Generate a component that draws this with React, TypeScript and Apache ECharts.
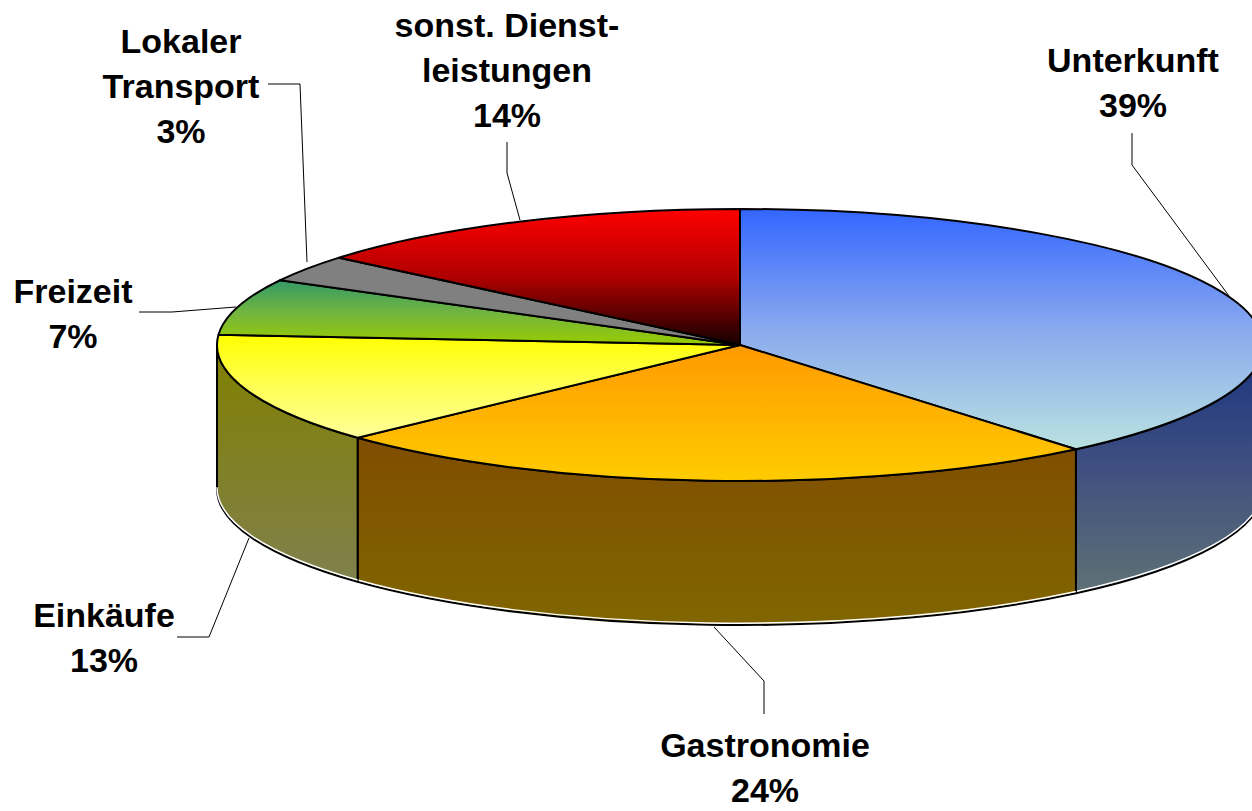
import React, { useEffect, useRef } from "react";
import * as echarts from "echarts";

const categories = ["Unterkunft", "Gastronomie", "Einkäufe", "Freizeit", "Lokaler\nTransport", "sonst. Dienst-\nleistungen"];
const shares = [38.9, 24.15, 13.15, 6.7, 3.2, 13.9];
const topColors = [
  ["#3366ff", "#8aa9ee", "#b9e2e0"],
  ["#ff9900", "#ffb300", "#ffcc00"],
  ["#ffff00", "#ffff55", "#ffff99"],
  ["#339966", "#72b540", "#99cc00"],
  ["#808080", "#808080", "#808080"],
  ["#ff0000", "#b00000", "#150000"],
];
const wallColors = [
  ["#1a3380", "#3f5080", "#5f7175"],
  ["#804d00", "#805a00", "#806600"],
  ["#808000", "#808026", "#80804d"],
  ["#1a4d33", "#38591a", "#4d6600"],
  ["#404040", "#404040", "#404040"],
  ["#800000", "#580000", "#0d0000"],
];
const labelAnchors = [
  [1133, 37],
  [765, 722],
  [104, 592],
  [73, 268],
  [181, 18],
  [507, 2],
];
const leaders = [
  [[1132, 133], [1132, 165], [1232, 300]],
  [[764, 714], [764, 681], [714, 627]],
  [[177, 637], [209, 637], [249, 538]],
  [[139, 312], [172, 312], [236, 307]],
  [[268, 84], [300, 84], [307, 262]],
  [[507, 142], [507, 173], [520, 220]],
];

const CX = 740;
const CY = 345;
const RX = 523;
const RY = 136;
const DEPTH = 144;
const total = shares.reduce((a, b) => a + b, 0);

const pt = (deg: number, dy = 0) => {
  const r = (deg * Math.PI) / 180;
  return [CX + RX * Math.sin(r), CY - RY * Math.cos(r) + dy];
};
const range = (i: number) => {
  let s = 0;
  for (let k = 0; k < i; k++) s += shares[k];
  return [(s / total) * 360, ((s + shares[i]) / total) * 360];
};
const grad = (c: string[]) => ({
  type: "linear",
  x: 0,
  y: 0,
  x2: 0,
  y2: 1,
  colorStops: [
    { offset: 0, color: c[0] },
    { offset: 0.5, color: c[1] },
    { offset: 1, color: c[2] },
  ],
});

const renderTop = (params: any) => {
  const i = params.dataIndex;
  const [a, b] = range(i);
  const p0 = pt(a);
  const p1 = pt(b);
  const large = b - a > 180 ? 1 : 0;
  return {
    type: "path",
    shape: {
      pathData: `M ${CX} ${CY} L ${p0[0]} ${p0[1]} A ${RX} ${RY} 0 ${large} 1 ${p1[0]} ${p1[1]} Z`,
    },
    style: { fill: grad(topColors[i]), stroke: "#000", lineWidth: 2, lineJoin: "round" },
  };
};

const renderWall = (params: any) => {
  const i = params.dataIndex;
  const [a0, b0] = range(i);
  const a = Math.max(a0, 90);
  const b = Math.min(b0, 270);
  if (b <= a) return { type: "group", children: [] };
  const p0 = pt(a);
  const p1 = pt(b);
  const q0 = pt(a, DEPTH);
  const q1 = pt(b, DEPTH);
  const h0 = pt(a, DEPTH - 1.8);
  const h1 = pt(b, DEPTH - 1.8);
  return {
    type: "group",
    children: [
      {
        type: "path",
        shape: {
          pathData: `M ${p0[0]} ${p0[1]} A ${RX} ${RY} 0 0 1 ${p1[0]} ${p1[1]} L ${q1[0]} ${q1[1]} A ${RX} ${RY} 0 0 0 ${q0[0]} ${q0[1]} Z`,
        },
        style: { fill: grad(wallColors[i]), stroke: "#000", lineWidth: 2, lineJoin: "round" },
      },
      {
        type: "path",
        shape: { pathData: `M ${h0[0]} ${h0[1]} A ${RX} ${RY} 0 0 1 ${h1[0]} ${h1[1]}` },
        style: { fill: "none", stroke: "#ffffff", lineWidth: 1.5 },
      },
    ],
  };
};

export default function App() {
  const ref = useRef<HTMLDivElement>(null);
  useEffect(() => {
    const chart = echarts.init(ref.current!, undefined, { renderer: "svg" });
    const data = shares.map((v, i) => ({ name: categories[i], value: v }));
    chart.setOption({
      animation: false,
      backgroundColor: "#ffffff",
      series: [
        { type: "custom", coordinateSystem: "none", z: 1, silent: true, data, renderItem: renderWall },
        { type: "custom", coordinateSystem: "none", z: 2, silent: true, data, renderItem: renderTop },
      ],
      graphic: {
        elements: [
          ...leaders.map((points) => ({
            type: "polyline",
            z: 5,
            silent: true,
            shape: { points },
            style: { fill: "none", stroke: "#000", lineWidth: 1 },
          })),
          ...categories.map((c, i) => ({
            type: "text",
            z: 6,
            silent: true,
            x: labelAnchors[i][0],
            y: labelAnchors[i][1],
            style: {
              text: `${c}\n${Math.round(shares[i])}%`,
              fill: "#000",
              font: 'bold 34px "Liberation Sans"',
              lineHeight: 45,
              align: "center",
              verticalAlign: "top",
            },
          })),
        ],
      },
    });
    return () => chart.dispose();
  }, []);
  return (
    <div
      ref={ref}
      style={{ position: "absolute", left: 0, top: 0, width: 1252, height: 811, overflow: "hidden" }}
    />
  );
}
